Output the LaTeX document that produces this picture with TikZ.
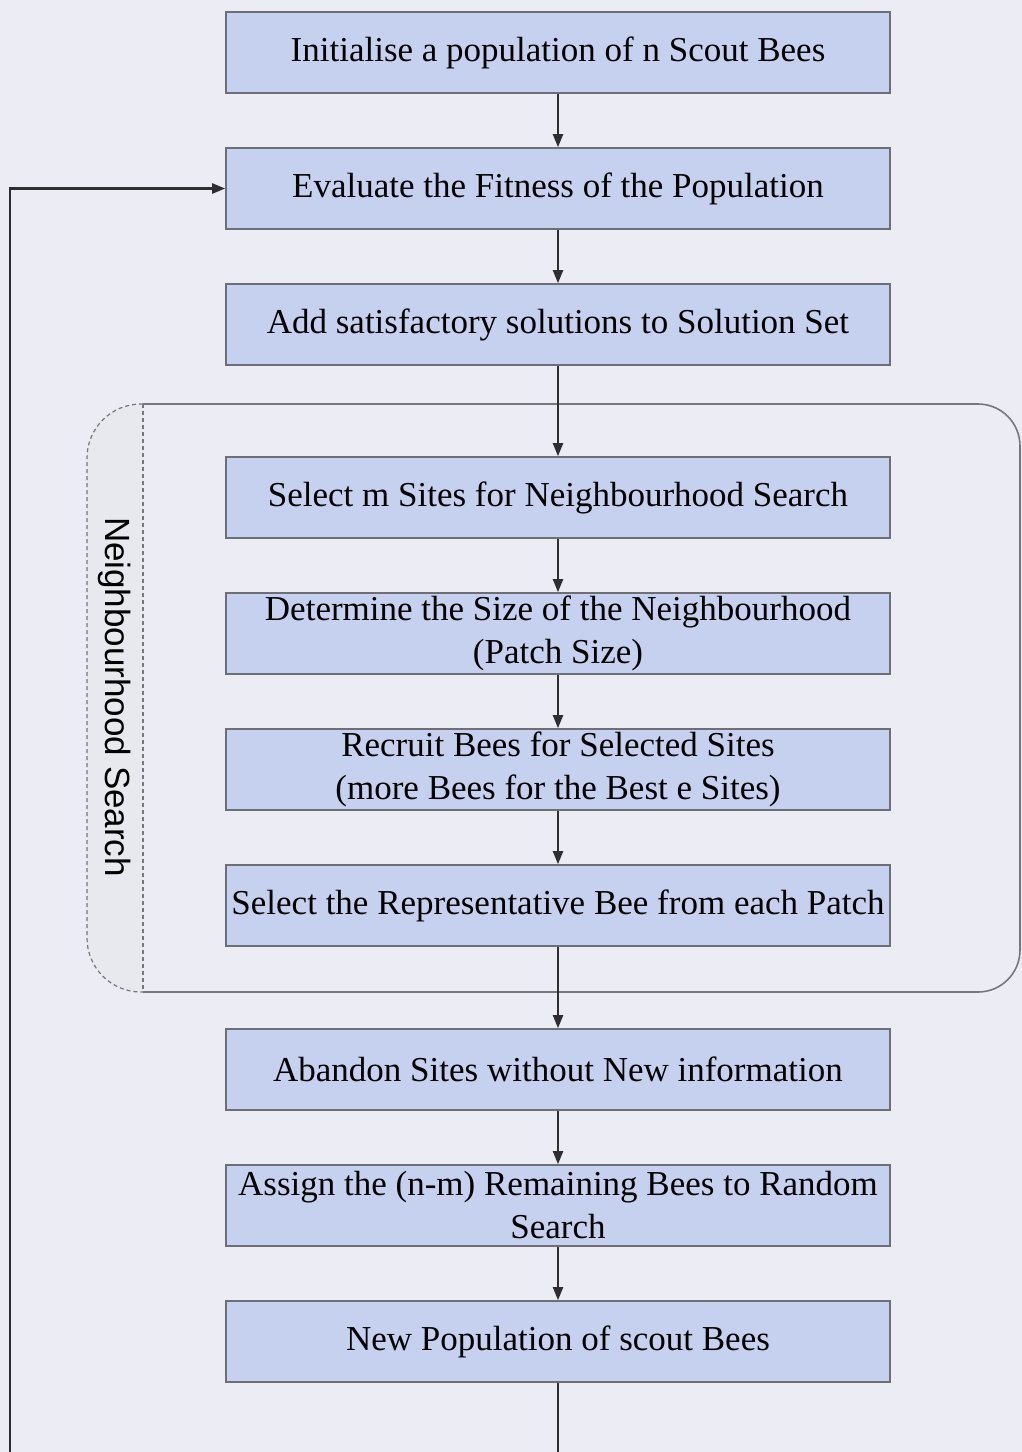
\documentclass[tikz,border=0pt]{standalone}
\usepackage{fontspec}
\setmainfont{Liberation Serif}
\setsansfont{Liberation Sans}
\usetikzlibrary{positioning,arrows.meta}
\definecolor{pagebg}{RGB}{236,236,244}
\definecolor{boxblue}{RGB}{198,209,240}
\definecolor{boxline}{RGB}{110,110,118}
\definecolor{stripbg}{RGB}{232,232,239}
\definecolor{groupline}{RGB}{118,118,126}
\definecolor{arrowc}{RGB}{45,45,50}

\begin{document}
\begin{tikzpicture}[x=1pt,y=1pt,node distance=26.7pt,
  box/.style={draw=boxline,line width=0.8pt,fill=boxblue,minimum width=332pt,minimum height=40.5pt,
    inner sep=1pt,align=center,font=\fontsize{17.5}{21.5}\selectfont},
  flow/.style={draw=arrowc,line width=1pt,-{Triangle[length=6.5pt,width=5pt]}},
  nsline/.style={groupline,line width=0.6pt,dash pattern=on 2pt off 1.5pt}]
\clip (0,0) rectangle (511,-726);
\fill[pagebg] (0,0) rectangle (511,-726);
% neighbourhood search group
\fill[stripbg] (71.5,-202) -- (70.5,-202) arc[start angle=90,end angle=180,radius=27pt]
  -- (43.5,-469) arc[start angle=180,end angle=270,radius=27pt] -- (71.5,-496) -- cycle;
\draw[nsline] (71.5,-202) -- (70.5,-202) arc[start angle=90,end angle=180,radius=27pt]
  -- (43.5,-469) arc[start angle=180,end angle=270,radius=27pt] -- (71.5,-496);
\draw[nsline] (71.5,-202) -- (71.5,-496);
\draw[groupline,line width=0.8pt,rounded corners=21pt] (71.5,-202) -- (510,-202) -- (510,-496) -- (71.5,-496);
\node[rotate=-90,font=\sffamily\fontsize{17.5}{21}\selectfont] (nslabel) at (57.5,-348.5) {Neighbourhood Search};

\node[box] (init) at (279,-26.25) {Initialise a population of n Scout Bees};
\node[box,below=of init] (eval) {Evaluate the Fitness of the Population};
\node[box,below=of eval] (addset) {Add satisfactory solutions to Solution Set};
\node[box,below=45.2pt of addset] (select) {Select m Sites for Neighbourhood Search};
\node[box,below=of select] (size) {Determine the Size of the Neighbourhood\\(Patch Size)};
\node[box,below=of size] (recruit) {Recruit Bees for Selected Sites\\(more Bees for the Best e Sites)};
\node[box,below=of recruit] (rep) {Select the Representative Bee from each Patch};
\node[box,below=40.7pt of rep] (abandon) {Abandon Sites without New information};
\node[box,below=of abandon] (assign) {Assign the (n-m) Remaining Bees to Random\\Search};
\node[box,below=of assign] (newpop) {New Population of scout Bees};

\foreach \a/\b in {init/eval,eval/addset,addset/select,select/size,size/recruit,
  recruit/rep,rep/abandon,abandon/assign,assign/newpop}
  \draw[flow] (\a) -- (\b);
% loop back to the evaluation step
\coordinate (loopcorner) at (5,-760);
\draw[flow,line width=1.2pt] (newpop.south) -- (newpop.south |- loopcorner) -- (loopcorner) |- (eval.west);
\end{tikzpicture}
\end{document}
